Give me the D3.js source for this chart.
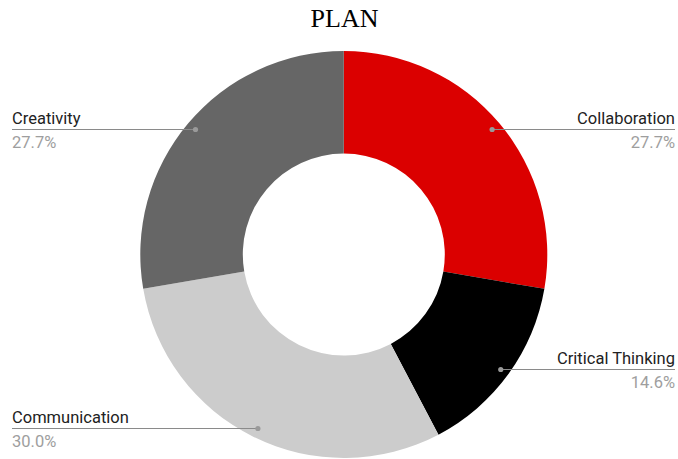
<!DOCTYPE html>
<html>
<head>
<meta charset="utf-8">
<script src="https://cdn.jsdelivr.net/npm/d3@7"></script>
<style>
  html, body { margin: 0; padding: 0; background: #fff; }
  svg { display: block; }
</style>
</head>
<body>
<svg id="chart" width="678" height="459"></svg>
<script>
const categories = ["Collaboration", "Critical Thinking", "Communication", "Creativity"];
const values = [27.7, 14.6, 30.0, 27.7];
const colors = ["#db0000", "#000000", "#cccccc", "#666666"];
const title = "PLAN";

const width = 678, height = 459;
const cx = 343.8, cy = 254.5;
const outerR = 203.5, innerR = 101, dotR = 194;

const svg = d3.select("#chart");

svg.append("text")
  .attr("x", 344.5).attr("y", 27)
  .attr("text-anchor", "middle")
  .attr("font-family", "'Liberation Serif', 'Times New Roman', serif")
  .attr("font-size", 26)
  .attr("fill", "#000")
  .text(title);

const data = categories.map((c, i) => ({ name: c, value: values[i], color: colors[i] }));
const pie = d3.pie().value(d => d.value).sort(null);
const arcs = pie(data);
const arc = d3.arc().innerRadius(innerR).outerRadius(outerR);

const g = svg.append("g").attr("transform", `translate(${cx},${cy})`);
g.selectAll("path.slice")
  .data(arcs)
  .join("path")
  .attr("class", "slice")
  .attr("d", arc)
  .attr("fill", d => d.data.color);

// leader lines with labels at the page edges
const fmt = d3.format(".1f");
arcs.forEach(a => {
  const mid = (a.startAngle + a.endAngle) / 2;
  const px = cx + dotR * Math.sin(mid);
  const py = cy - dotR * Math.cos(mid);
  const right = Math.sin(mid) > 0;
  const ex = right ? 675 : 12;
  const ly = Math.round(py) + 0.5;

  svg.append("line")
    .attr("x1", px).attr("y1", ly)
    .attr("x2", ex).attr("y2", ly)
    .attr("stroke", "#8a8a8a").attr("stroke-width", 1.2);
  svg.append("circle")
    .attr("cx", px).attr("cy", ly).attr("r", 2.6)
    .attr("fill", "#9a9a9a");

  svg.append("text")
    .attr("x", ex).attr("y", ly - 6)
    .attr("text-anchor", right ? "end" : "start")
    .attr("font-family", "Roboto, 'Noto Sans', sans-serif")
    .attr("font-size", 16.5)
    .attr("fill", "#222")
    .text(a.data.name);
  svg.append("text")
    .attr("x", ex).attr("y", ly + 18)
    .attr("text-anchor", right ? "end" : "start")
    .attr("font-family", "Roboto, 'Noto Sans', sans-serif")
    .attr("font-size", 16.5)
    .attr("fill", "#9e9e9e")
    .text(fmt(a.data.value) + "%");
});
</script>
</body>
</html>
